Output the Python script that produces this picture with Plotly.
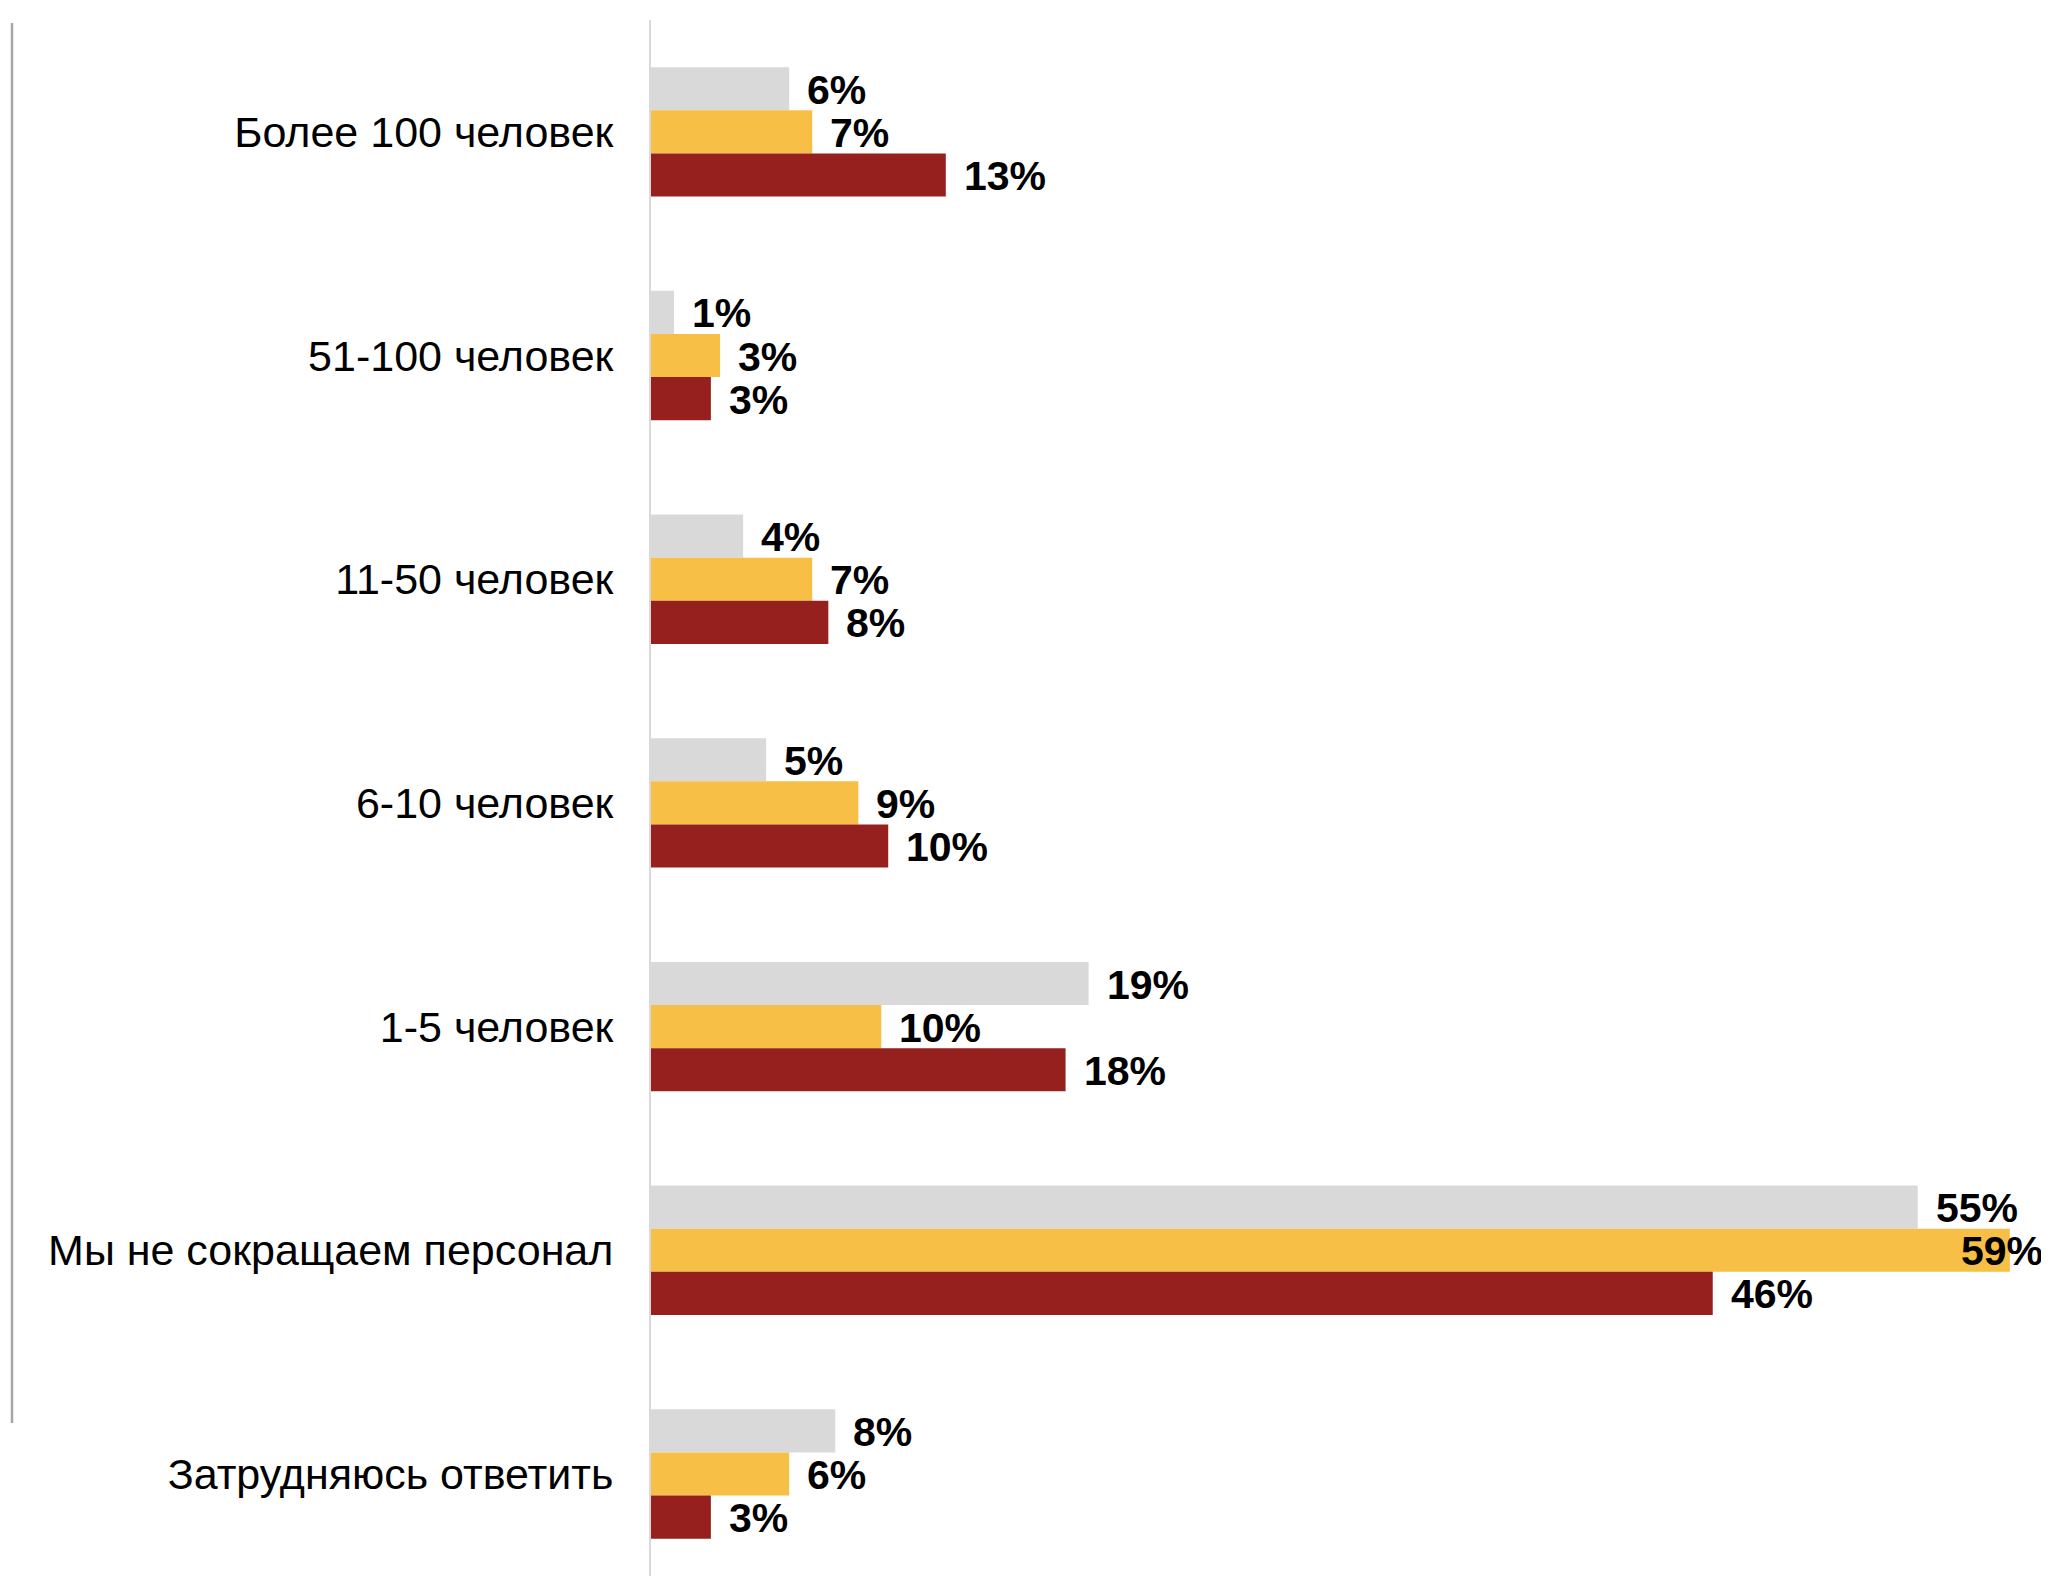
import plotly.graph_objects as go

categories = [
    "Более 100 человек",
    "51-100 человек",
    "11-50 человек",
    "6-10 человек",
    "1-5 человек",
    "Мы не сокращаем персонал",
    "Затрудняюсь ответить",
]
series_gray = [6, 1, 4, 5, 19, 55, 8]
series_yellow = [7, 3, 7, 9, 10, 59, 6]
series_red = [12.8, 2.6, 7.7, 10.3, 18.0, 46.1, 2.6]

series = [
    ("s1", series_gray, "#D9D9D9"),
    ("s2", series_yellow, "#F7BF46"),
    ("s3", series_red, "#96201E"),
]

OFF = 8  # page body margin
W, H = 2049 - OFF, 1576 - OFF
L, T = 651 - OFF, 20 - OFF
X_MAX = 60.7
BAR_PX = 43.1

fig = go.Figure()
for name, vals, col in series:
    fig.add_trace(go.Bar(
        y=categories, x=vals, orientation="h", name=name,
        marker=dict(color=col, line=dict(width=0)),
        hoverinfo="skip",
    ))

annotations = []
for i, (name, vals, col) in enumerate(series):
    yshift = (1 - i) * BAR_PX
    for cat, v in zip(categories, vals):
        txt = f"<b>{round(v):d}%</b>"
        if v > X_MAX - 3:
            annotations.append(dict(x=v, y=cat, xref="x", yref="y", text=txt,
                                    showarrow=False, xanchor="right", xshift=35,
                                    yshift=yshift - 1, font=dict(size=41, color="black")))
        else:
            annotations.append(dict(x=v, y=cat, xref="x", yref="y", text=txt,
                                    showarrow=False, xanchor="left", xshift=16,
                                    yshift=yshift - 1, font=dict(size=41, color="black")))

fig.update_layout(
    width=W, height=H,
    margin=dict(l=L, r=0, t=T, b=0, pad=0),
    paper_bgcolor="white", plot_bgcolor="white",
    barmode="group", bargap=0.4215, bargroupgap=0,
    showlegend=False,
    font=dict(family="Liberation Sans, Arial, sans-serif", color="black"),
    annotations=annotations,
    xaxis=dict(range=[0, X_MAX], visible=False, showgrid=False, zeroline=False),
    yaxis=dict(
        type="category", range=[6.456, -0.5],
        showline=True, linecolor="#D9D9D9", linewidth=2,
        showgrid=False, zeroline=False, ticks="",
        tickfont=dict(size=43, color="black", family="Liberation Sans, Arial, sans-serif"),
        ticklabelstandoff=27,
    ),
    shapes=[dict(type="line", xref="paper", yref="paper",
                 x0=(12 - OFF - L) / (W - L), x1=(12 - OFF - L) / (W - L),
                 y0=1 - (23 - 20) / (H - T), y1=1 - (1423 - 20) / (H - T),
                 line=dict(color="#A6A6A6", width=2.5))],
)

fig.write_html("out.html")
